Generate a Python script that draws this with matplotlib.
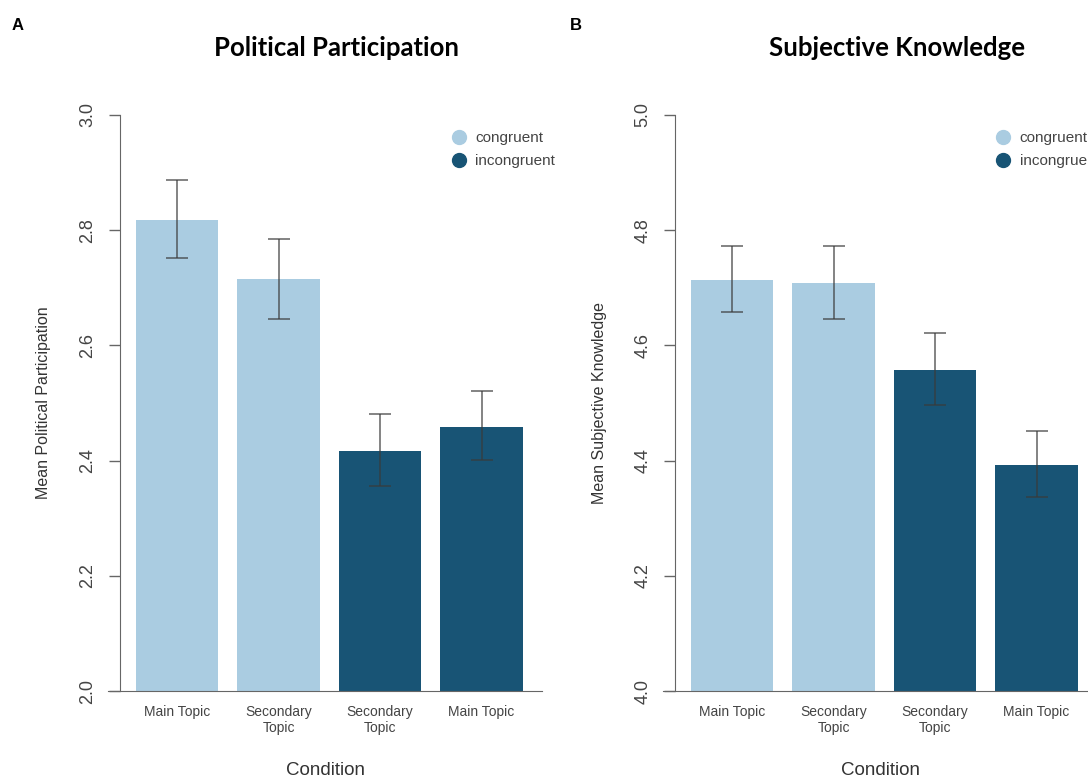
import matplotlib
matplotlib.use("Agg")
import matplotlib.pyplot as plt
from matplotlib.lines import Line2D

conditions = ["Main Topic", "Secondary\nTopic", "Secondary\nTopic", "Main Topic"]
groups = ["congruent", "congruent", "incongruent", "incongruent"]

pp_means = [2.818, 2.715, 2.417, 2.459]
pp_lower = [2.752, 2.646, 2.356, 2.401]
pp_upper = [2.888, 2.785, 2.481, 2.520]

sk_means = [4.713, 4.708, 4.558, 4.392]
sk_lower = [4.658, 4.646, 4.497, 4.337]
sk_upper = [4.772, 4.772, 4.621, 4.452]

colors = {"congruent": "#aacce1", "incongruent": "#185475"}
sans = ["Liberation Sans", "DejaVu Sans"]

fig = plt.figure(figsize=(10.88, 7.78), dpi=100)


def panel(left, means, lower, upper, ylim, yticks, ylabel, title, title_x,
          letter, letter_x, spine_frac, leg_x):
    ax = fig.add_axes([left, 0.1118, 0.399, 0.7404])
    # spine position first: it resets the ticks
    for s in ["top", "right"]:
        ax.spines[s].set_visible(False)
    ax.spines["left"].set_position(("axes", spine_frac))
    ax.spines["left"].set_color("#666666")
    ax.spines["bottom"].set_color("#666666")

    x = list(range(len(means)))
    err = [[m - lo for m, lo in zip(means, lower)], [hi - m for m, hi in zip(means, upper)]]
    ax.bar(x, [m - ylim[0] for m in means], bottom=ylim[0], width=0.813,
           color=[colors[g] for g in groups])
    ax.errorbar(x, means, yerr=err, fmt="none", ecolor="#3a3a3a", alpha=0.8,
                elinewidth=1.1, capsize=8, capthick=1.1)
    ax.set_ylim(*ylim)
    ax.set_xlim(-0.68, 3.596)
    ax.spines["left"].set_bounds(ylim[0], ylim[1])
    ax.tick_params(axis="x", length=0, pad=10)
    ax.tick_params(axis="y", length=8, width=1, color="#666666", pad=9)
    ax.set_yticks(yticks)
    ax.set_yticklabels([f"{t:.1f}" for t in yticks], rotation=90, va="center",
                       ha="right", fontsize=13, color="#444444", family=sans)
    ax.set_xticks(x)
    ax.set_xticklabels(conditions, fontsize=10, color="#444444", family=sans,
                       linespacing=1.15)
    ax.set_ylabel(ylabel, fontsize=11.5, color="#333333", family=sans, labelpad=20)
    ax.set_xlabel("Condition", fontsize=13.5, color="#333333", family=sans, labelpad=20)
    handles = [Line2D([], [], marker="o", linestyle="none", markersize=10,
                      color=colors[g], label=g) for g in ["congruent", "incongruent"]]
    leg = ax.legend(handles=handles, loc="upper left", bbox_to_anchor=(leg_x, 0.982),
                    frameon=False, handletextpad=0.05, labelspacing=0.55,
                    prop={"family": sans, "size": 11}, borderaxespad=0)
    for t in leg.get_texts():
        t.set_color("#444444")
    fig.text(title_x, 0.938, title, ha="center", va="center", fontsize=18.5,
             fontweight="bold", family=["Lato", "DejaVu Sans"])
    fig.text(letter_x, 0.967, letter, ha="left", va="center", fontsize=12,
             fontweight="bold", family=sans)
    return ax


panel(108 / 1088, pp_means, pp_lower, pp_upper, (2.0, 3.0),
      [2.0, 2.2, 2.4, 2.6, 2.8, 3.0], "Mean Political Participation",
      "Political Participation", 336 / 1088, "A", 12 / 1088, 0.027, 0.76)
panel(663 / 1088, sk_means, sk_lower, sk_upper, (4.0, 5.0),
      [4.0, 4.2, 4.4, 4.6, 4.8, 5.0], "Mean Subjective Knowledge",
      "Subjective Knowledge", 897 / 1088, "B", 570 / 1088, 0.0286, 0.735)

fig.savefig("out.png", dpi=100)
